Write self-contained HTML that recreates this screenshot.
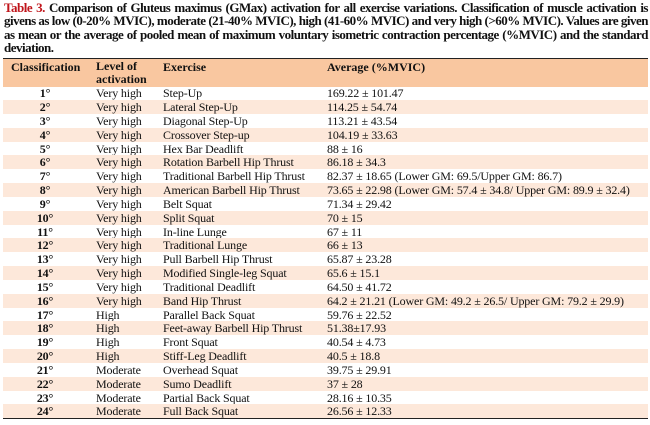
<!DOCTYPE html><html><head><meta charset="utf-8"><style>
body{margin:0;width:650px;height:425px;background:#fff;font-family:"Liberation Serif",serif;color:#111;position:relative;overflow:hidden}
.t{position:absolute;left:4px;top:1px;width:644px;font-size:13px;font-weight:bold;line-height:13.4px;letter-spacing:-0.5px}
.t div{white-space:nowrap;text-align:justify;text-align-last:justify;width:644px}
.t div.l{text-align-last:left}
.t b{color:#c0151b}
.hd{position:absolute;left:3px;width:645px;top:58px;height:28px;background:#f9c7a0;border-top:1.5px solid #222;font-weight:bold;font-size:12px}
.r{position:absolute;left:3px;width:645px;height:13.83px;font-size:12px;line-height:14.5px;letter-spacing:-0.15px}
.r.s{background:#fde8da}
.c{position:absolute;top:0}
.c1{left:0;width:84px;text-align:center;font-weight:bold}
.c2{left:93px}.c3{left:160px}.c4{left:324px}
.bl{position:absolute;left:3px;width:645px;top:418px;border-top:1.5px solid #222}
</style></head><body>
<div class="t">
<div><b>Table 3.</b> Comparison of Gluteus maximus (GMax) activation for all exercise variations. Classification of muscle activation is</div>
<div>givens as low (0-20% MVIC), moderate (21-40% MVIC), high (41-60% MVIC) and very high (&gt;60% MVIC). Values are given</div>
<div>as mean or the average of pooled mean of maximum voluntary isometric contraction percentage (%MVIC) and the standard</div>
<div class="l">deviation.</div>
</div>
<div class="hd">
<div class="c" style="left:8px;top:1px">Classification</div>
<div class="c" style="left:93px;top:1px;line-height:13px">Level of<br>activation</div>
<div class="c" style="left:160px;top:1px">Exercise</div>
<div class="c" style="left:324px;top:1px">Average (%MVIC)</div>
</div>
<div id="rows"></div>
<div class="bl"></div>
<script>
var d=[["Very high","Step-Up","169.22 ± 101.47"],["Very high","Lateral Step-Up","114.25 ± 54.74"],["Very high","Diagonal Step-Up","113.21 ± 43.54"],["Very high","Crossover Step-up","104.19 ± 33.63"],["Very high","Hex Bar Deadlift","88 ± 16"],["Very high","Rotation Barbell Hip Thrust","86.18 ± 34.3"],["Very high","Traditional Barbell Hip Thrust","82.37 ± 18.65 (Lower GM: 69.5/Upper GM: 86.7)"],["Very high","American Barbell Hip Thrust","73.65 ± 22.98 (Lower GM: 57.4 ± 34.8/ Upper GM: 89.9 ± 32.4)"],["Very high","Belt Squat","71.34 ± 29.42"],["Very high","Split Squat","70 ± 15"],["Very high","In-line Lunge","67 ± 11"],["Very high","Traditional Lunge","66 ± 13"],["Very high","Pull Barbell Hip Thrust","65.87 ± 23.28"],["Very high","Modified Single-leg Squat","65.6 ± 15.1"],["Very high","Traditional Deadlift","64.50 ± 41.72"],["Very high","Band Hip Thrust","64.2 ± 21.21 (Lower GM: 49.2 ± 26.5/ Upper GM: 79.2 ± 29.9)"],["High","Parallel Back Squat","59.76 ± 22.52"],["High","Feet-away Barbell Hip Thrust","51.38±17.93"],["High","Front Squat","40.54 ± 4.73"],["High","Stiff-Leg Deadlift","40.5 ± 18.8"],["Moderate","Overhead Squat","39.75 ± 29.91"],["Moderate","Sumo Deadlift","37 ± 28"],["Moderate","Partial Back Squat","28.16 ± 10.35"],["Moderate","Full Back Squat","26.56 ± 12.33"]];
var h="";d.forEach(function(r,i){h+='<div class="r'+(i%2?' s':'')+'" style="top:'+(86.3+i*13.83)+'px"><div class="c c1">'+(i+1)+'°</div><div class="c c2">'+r[0]+'</div><div class="c c3">'+r[1]+'</div><div class="c c4">'+r[2]+'</div></div>'});
document.getElementById("rows").innerHTML=h;
</script>
</body></html>
